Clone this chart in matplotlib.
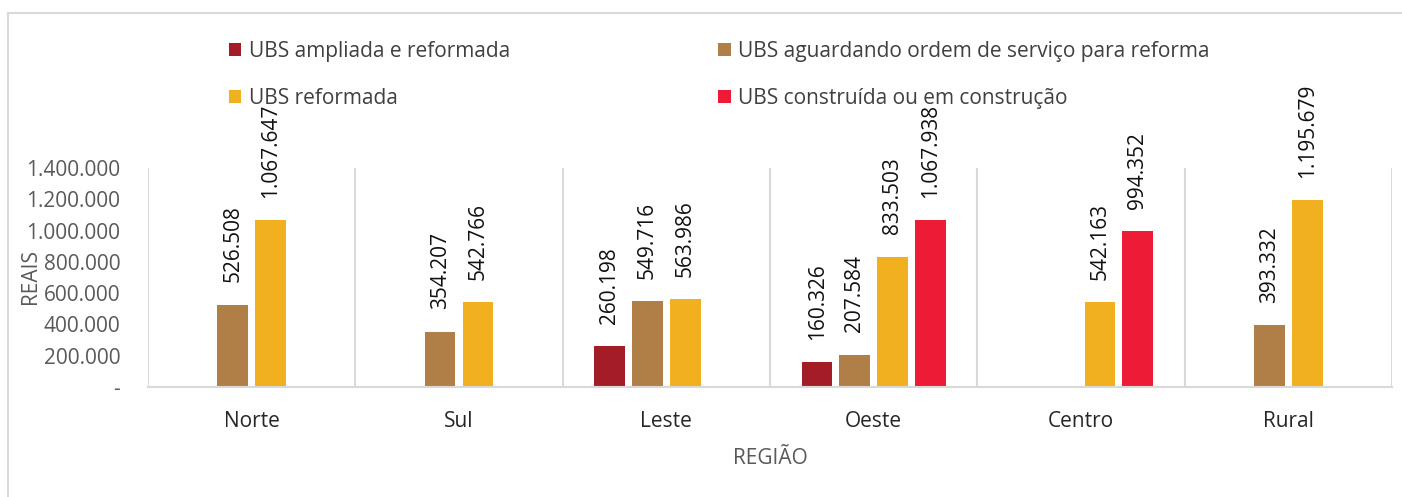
import numpy as np
import matplotlib

matplotlib.use("Agg")
import matplotlib.pyplot as plt
from matplotlib.patches import Rectangle

plt.rcParams["font.family"] = ["Open Sans", "DejaVu Sans"]

# ---------------------------------------------------------------------------
# data
# ---------------------------------------------------------------------------
REGIOES = ["Norte", "Sul", "Leste", "Oeste", "Centro", "Rural"]
SERIES = [
    "UBS ampliada e reformada",
    "UBS aguardando ordem de serviço para reforma",
    "UBS reformada",
    "UBS construída ou em construção",
]
AMPLIADA = [0, 0, 260198, 160326, 0, 0]
AGUARDANDO = [526508, 354207, 549716, 207584, 0, 393332]
REFORMADA = [1067647, 542766, 563986, 833503, 542163, 1195679]
CONSTRUIDA = [0, 0, 0, 1067938, 994352, 0]
Y_TICKS = [0, 200000, 400000, 600000, 800000, 1000000, 1200000, 1400000]

COLORS = ["#A51C29", "#B07F48", "#F0B020", "#ED1B35"]


def fmt_br(v):
    return f"{v:,.0f}".replace(",", ".")


fig = plt.figure(figsize=(14.02, 4.97), dpi=100)
ax = fig.add_axes([148 / 1402, 1 - 387 / 497, (1392 - 148) / 1402, (387 - 168) / 497])

# outer chart frame (extends past the image on right/bottom)
fig.patches.append(Rectangle((8 / 1402, -0.1), 1.2, 1 - 13 / 497 + 0.1,
                             transform=fig.transFigure, fill=False,
                             edgecolor="#d9d9d9", lw=1.5))

x = np.arange(len(REGIOES))
offsets = [-0.273, -0.091, 0.091, 0.273]
width = 0.148
handles = []
for vals, off, col, name in zip([AMPLIADA, AGUARDANDO, REFORMADA, CONSTRUIDA],
                                offsets, COLORS, SERIES):
    bars = ax.bar(x + off, vals, width, color=col, label=name)
    handles.append(bars)
    for xi, v in zip(x + off, vals):
        if v > 0:
            ax.annotate(fmt_br(v), (xi, v), xytext=(0, 16), textcoords="offset points",
                        rotation=90, ha="center", va="bottom", fontsize=15,
                        color="#111111", annotation_clip=False)

ax.set_xlim(-0.5, len(REGIOES) - 0.5)
ax.set_ylim(0, 1400000)
ax.set_yticks(Y_TICKS)
ax.set_yticklabels(["-"] + [fmt_br(v) for v in Y_TICKS[1:]])
ax.set_xticks(x)
ax.set_xticklabels(REGIOES)
ax.tick_params(axis="both", length=0, labelsize=15, colors="#595959")
ax.tick_params(axis="x", pad=17, labelcolor="#262626")
ax.tick_params(axis="y", pad=20)

# vertical separators between regions
for b in np.arange(-0.5, len(REGIOES), 1.0):
    ax.axvline(b, color="#d9d9d9", lw=1.5, zorder=0)
for side in ["top", "right", "left"]:
    ax.spines[side].set_visible(False)
ax.spines["bottom"].set_color("#d9d9d9")
ax.spines["bottom"].set_linewidth(1.5)

fig.text(31 / 1402, 1 - 277 / 497, "REAIS", rotation=90, fontsize=15,
         color="#595959", ha="center", va="center")
ax.set_xlabel("REGIÃO", fontsize=15, color="#595959", labelpad=12)

order = [0, 2, 1, 3]
fig.legend([handles[i] for i in order], [SERIES[i] for i in order], ncol=2,
           loc="upper left", bbox_to_anchor=(210 / 1402, 1 - 22 / 497),
           frameon=False, fontsize=15, handlelength=0.6, handleheight=0.6,
           handletextpad=0.35, labelspacing=1.25, columnspacing=10.0,
           labelcolor="#404040")

fig.savefig("out.png", dpi=100)
